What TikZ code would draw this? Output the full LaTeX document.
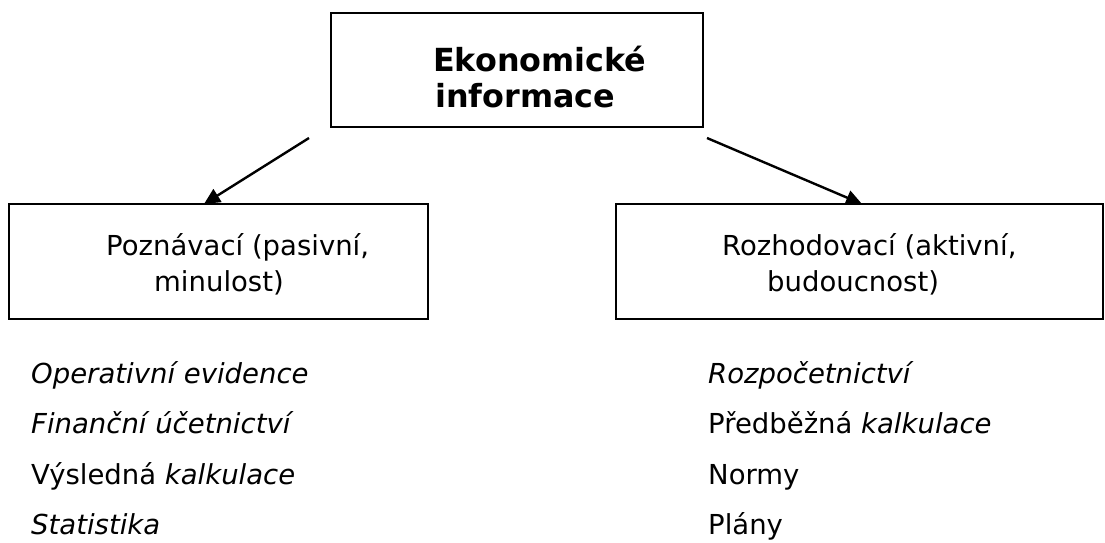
\documentclass[tikz,border=0pt]{standalone}
\usepackage{fontspec}
\setmainfont{DejaVu Sans}
\usetikzlibrary{arrows.meta}
\begin{document}
\begin{tikzpicture}[x=1pt,y=-1pt,
  box/.style={draw=black,line width=1.8pt,inner sep=0pt},
  txt/.style={anchor=base west,inner sep=0pt,font=\fontsize{27.5pt}{36pt}\selectfont},
  ttl/.style={anchor=base west,inner sep=0pt,font=\fontsize{31.8pt}{36pt}\selectfont\bfseries},
  arr/.style={line width=2.4pt,-{Triangle[length=16pt,width=15pt]}}]
\useasboundingbox (0,0) rectangle (1105,542);
% boxes
\node[box,minimum width=372pt,minimum height=114pt] (top) at (517,70) {};
\node[box,minimum width=419pt,minimum height=115pt] (left) at (218.5,261.5) {};
\node[box,minimum width=487pt,minimum height=115pt] (right) at (859.5,261.5) {};
% box texts
\node[ttl] (t1) at (433,71) {Ekonomické};
\node[ttl] (t2) at (435,107) {informace};
\node[txt] (l1) at (106,255) {Poznávací (pasivní,};
\node[txt] (l2) at (154,291) {minulost)};
\node[txt] (r1) at (722,255) {Rozhodovací (aktivní,};
\node[txt] (r2) at (767,291) {budoucnost)};
% arrows
\coordinate (sa) at (309,138);
\coordinate (sb) at (707,138);
\coordinate (ea) at (204,204);
\coordinate (eb) at (862,204);
\draw[arr] (sa) -- (ea);
\draw[arr] (sb) -- (eb);
% lists
\node[txt] (a1) at (31,383) {\itshape Operativní evidence};
\node[txt] (a2) at (31,433.5) {\itshape Finanční účetnictví};
\node[txt] (a3) at (31,484) {Výsledná \textit{kalkulace}};
\node[txt] (a4) at (31,534.5) {\itshape Statistika};
\node[txt] (b1) at (708,383) {\itshape Rozpočetnictví};
\node[txt] (b2) at (708,433.5) {Předběžná \textit{kalkulace}};
\node[txt] (b3) at (708,484) {Normy};
\node[txt] (b4) at (708,534.5) {Plány};
\end{tikzpicture}
\end{document}
